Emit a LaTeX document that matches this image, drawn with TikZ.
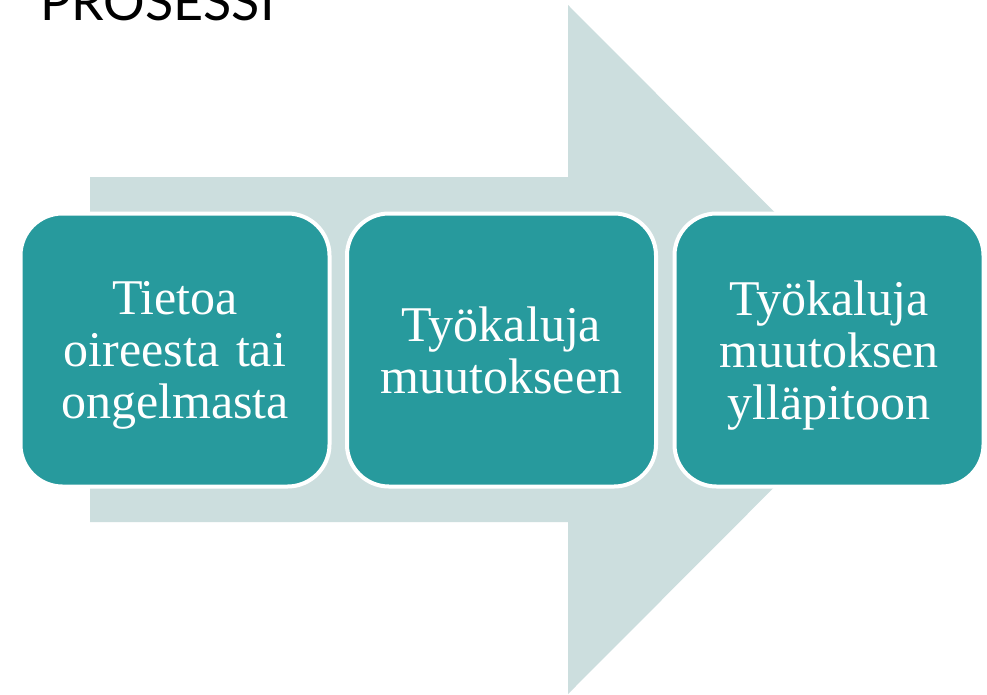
\documentclass[tikz,border=0pt]{standalone}
\usepackage{fontspec}
\setmainfont{Liberation Serif}
\newfontfamily\titlefont{Lato}
\definecolor{teal1}{RGB}{39,154,157}
\definecolor{arrowbg}{RGB}{204,222,222}
\tikzset{
  stepbox/.style={rounded corners=42pt, fill=teal1, draw=white, line width=4pt,
    minimum width=309pt, minimum height=273pt, inner sep=0pt,
    text=white, align=center, text width=300pt,
    font=\fontsize{50pt}{52pt}\selectfont},
  bigarrow/.style={fill=arrowbg, draw=none}
}
\begin{document}
\begin{tikzpicture}[x=1pt,y=-1pt]
\useasboundingbox (0,0) rectangle (987,694);
\clip (0,0) rectangle (987,694);
\fill[white] (0,0) rectangle (987,694);
% big background arrow
\fill[bigarrow] (90,177) -- (568,177) -- (568,5) -- (911.5,349.5) -- (568,694) -- (568,522) -- (90,522) -- cycle;
% title
\node[anchor=base west, inner sep=0pt, font=\titlefont\fontsize{52pt}{56pt}\selectfont] (title) at (40,20.5) {PROSESSI};
% boxes
\node[stepbox] (b1) at (175,350) {Tietoa\\oireesta tai\\\smash{ongelmasta}};
\node[stepbox] (b2) at (501.5,350) {Työkaluja\\muutokseen};
\node[stepbox] (b3) at (829,350) {Työkaluja\\muutoksen\\\smash{ylläpitoon}};
\end{tikzpicture}
\end{document}
